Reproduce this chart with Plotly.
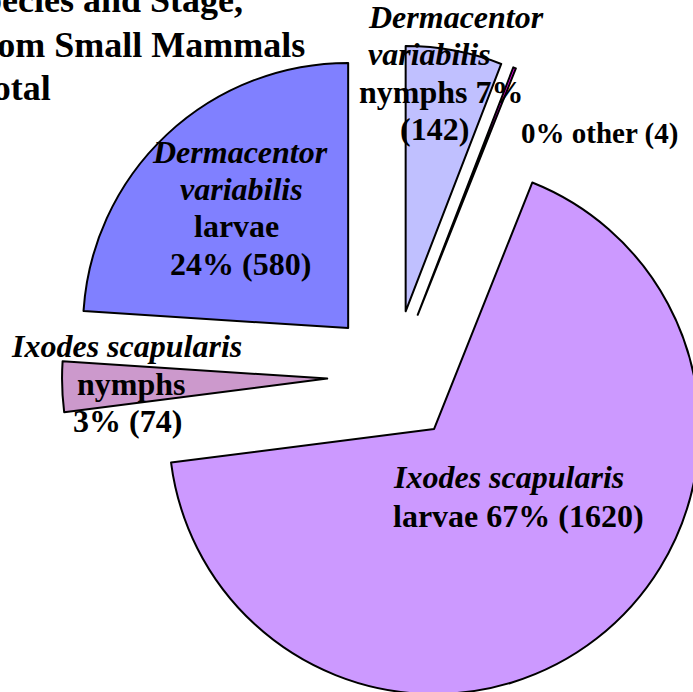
import plotly.graph_objects as go

# tick counts by species / stage, clockwise from 12 o'clock
labels = ["Dermacentor variabilis nymphs", "other", "Ixodes scapularis larvae",
          "Ixodes scapularis nymphs", "Dermacentor variabilis larvae"]
counts = [142, 4, 1620, 74, 580]
pct_text = ["7%", "0%", "67%", "3%", "24%"]
colors = ["#C0C0FF", "#FF00FF", "#CC99FF", "#CC99CC", "#8080FF"]

title_lines = ["Species and Stage,", "from Small Mammals", "Total"]

# figure geometry (pixels)
W, H = 725, 708
ML, MT = 62, 45
PW, PH = W - ML, H - MT


def paper(px, py):
    return (px - ML) / PW, 1 - (py - MT) / PH


fig = go.Figure()

fig.add_trace(go.Pie(
    labels=labels,
    values=counts,
    sort=False,
    direction="clockwise",
    rotation=0,
    pull=[0.25] * len(counts),
    marker=dict(colors=colors, line=dict(color="black", width=2)),
    textinfo="none",
    hoverinfo="label+value",
    showlegend=False,
    domain=dict(x=[0, 1], y=[0, 1]),
))

SERIF = "Liberation Serif, Times New Roman, serif"
LS = 32  # label font size


def add_line(txt, cx, base_y, size=LS, xanchor="center"):
    ax, ay = paper(cx, base_y - 0.3375 * size)
    fig.add_annotation(text=txt, x=ax, y=ay, xref="paper", yref="paper",
                       xanchor=xanchor, yanchor="middle", showarrow=False,
                       font=dict(family=SERIF, size=size, color="black",
                                 weight="bold"))


# Dermacentor variabilis larvae
add_line("<i>Dermacentor</i>", 240, 163)
add_line("<i>variabilis</i>", 241, 200)
add_line("larvae", 236, 237)
add_line("%s (%d)" % (pct_text[4], counts[4]), 240, 275)

# Dermacentor variabilis nymphs
add_line("<i>Dermacentor</i>", 456, 28)
add_line("<i>variabilis</i>", 429, 65)
add_line("nymphs %s" % pct_text[0], 441, 103)
add_line("(%d)" % counts[0], 434, 140)

# other
add_line("%s other (%d)" % (pct_text[1], counts[1]), 599, 143, size=29)

# Ixodes scapularis nymphs
add_line("<i>Ixodes scapularis</i>", 126, 357)
add_line("nymphs", 131, 395)
add_line("%s (%d)" % (pct_text[3], counts[3]), 127, 432)

# Ixodes scapularis larvae
add_line("<i>Ixodes scapularis</i>", 508, 488)
add_line("larvae %s (%d)" % (pct_text[2], counts[2]), 518, 527)

# title, cropped at the left edge like the source
for line, right_x, base_y in zip(title_lines, [245, 307, 53], [12, 57, 100]):
    add_line(line, right_x, base_y, size=36, xanchor="right")

fig.update_layout(
    width=W, height=H,
    margin=dict(l=ML, r=0, t=MT, b=0),
    paper_bgcolor="white",
    plot_bgcolor="white",
)

fig.write_html("out.html", config={"displayModeBar": False},
               post_script="document.body.style.margin='0';document.body.style.overflow='hidden';")
